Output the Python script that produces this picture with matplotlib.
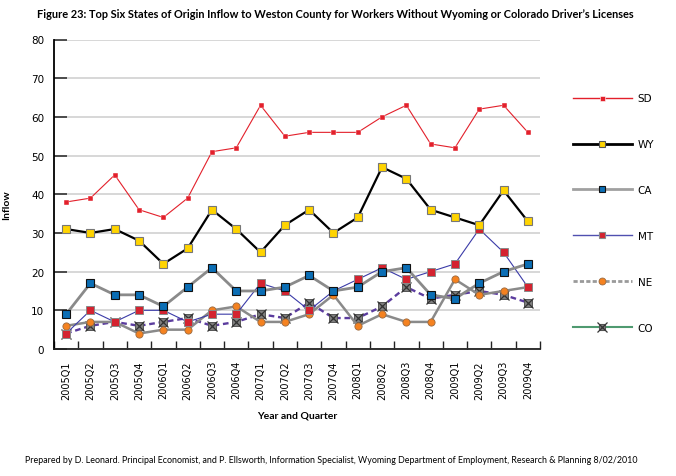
"""
Figure 23 - top six states of origin inflow to Weston County
"""
import matplotlib
matplotlib.use("Agg")
import matplotlib.pyplot as plt
from matplotlib import font_manager as fm
from matplotlib.lines import Line2D
from matplotlib.legend_handler import HandlerTuple
import numpy as np

quarters = ["2005Q1", "2005Q2", "2005Q3", "2005Q4", "2006Q1", "2006Q2", "2006Q3",
            "2006Q4", "2007Q1", "2007Q2", "2007Q3", "2007Q4", "2008Q1", "2008Q2",
            "2008Q3", "2008Q4", "2009Q1", "2009Q2", "2009Q3", "2009Q4"]

sd = [38, 39, 45, 36, 34, 39, 51, 52, 63, 55, 56, 56, 56, 60, 63, 53, 52, 62, 63, 56]
wy = [31, 30, 31, 28, 22, 26, 36, 31, 25, 32, 36, 30, 34, 47, 44, 36, 34, 32, 41, 33]
ca = [9, 17, 14, 14, 11, 16, 21, 15, 15, 16, 19, 15, 16, 20, 21, 14, 13, 17, 20, 22]
mt = [4, 10, 7, 10, 10, 7, 9, 9, 17, 15, 10, 15, 18, 21, 18, 20, 22, 31, 25, 16]
ne = [6, 7, 7, 4, 5, 5, 10, 11, 7, 7, 9, 14, 6, 9, 7, 7, 18, 14, 15, 16]
co = [4, 6, 7, 6, 7, 8, 6, 7, 9, 8, 12, 8, 8, 11, 16, 13, 14, 15, 14, 12]


def pick(*names):
    for n in names:
        try:
            fm.findfont(n, fallback_to_default=False)
            return n
        except Exception:
            pass
    return "DejaVu Sans"


NARROW = pick("Lato", "Roboto", "DejaVu Sans")
plt.rcParams["font.family"] = "DejaVu Sans"

RED = "#e3202b"
YEL = "#ffd400"
BLUE = "#0b6eb5"
MTRED = "#d42330"
ORANGE = "#f58220"
GRAY = "#8a8a8a"
PURPLE = "#5b3c9e"

fig = plt.figure(figsize=(6.76, 4.77), dpi=100)
ax = fig.add_axes([54/676, 1-350/477, 486/676, 309.5/477])

x = np.arange(len(quarters))

# CO: grey x-square markers on purple dashed line
ax.plot(x, co, color=PURPLE, lw=1.7, ls=(0, (2.4, 1.6)), zorder=3)
ax.plot(x, co, ls="none", marker="s", ms=5.2, mfc="#7f7f7f", mec="#555555", mew=0.7, zorder=3)
ax.plot(x, co, ls="none", marker="x", ms=7, mec="#333333", mew=0.9, zorder=3)
# NE: orange circles on grey line
ax.plot(x, ne, color=GRAY, lw=1.8, marker="o", ms=5.2, mfc=ORANGE, mec="#9a6a40", mew=0.6, zorder=4)
# MT
ax.plot(x, mt, color="#3b3ba8", lw=0.8, marker="s", ms=6, mfc=MTRED, mec="#8a8a8a", mew=0.7, zorder=5)
# CA
ax.plot(x, ca, color=GRAY, lw=2.0, marker="s", ms=6, mfc=BLUE, mec="#111111", mew=0.8, zorder=6)
# WY
ax.plot(x, wy, color="black", lw=1.6, marker="s", ms=6, mfc=YEL, mec="#777777", mew=0.8, zorder=7)
# SD
ax.plot(x, sd, color=RED, lw=0.8, marker="s", ms=3.6, mfc=RED, mec="white", mew=0.3, zorder=8)

ax.set_xlim(-0.5, len(quarters) - 0.5)
ax.set_ylim(0, 80)
ax.set_yticks(range(0, 81, 10))
ax.yaxis.grid(True, color="#d4d4d4", lw=1.3)
ax.set_axisbelow(True)
ax.tick_params(axis="y", direction="in", length=9, width=1.2, color="#333333",
               labelsize=7.5, pad=7)
ax.set_xticks(x)
ax.set_xticklabels(quarters, rotation=90, fontsize=7)
ax.set_xticks(np.arange(-0.5, len(quarters)), minor=True)
ax.tick_params(axis="x", which="major", length=0, pad=8)
ax.tick_params(axis="x", which="minor", direction="in", length=6, width=1, color="#222222")
for s in ["top", "right"]:
    ax.spines[s].set_visible(False)
ax.spines["left"].set_linewidth(1.3)
ax.spines["bottom"].set_linewidth(1.3)
ax.spines["bottom"].set_color("#222222")

ax.set_xlabel("Year and Quarter", family=NARROW, fontweight="bold", fontsize=7.5)
ax.xaxis.set_label_coords(0.5, (350 - 416) / 309.5)
ax.xaxis.label.set_va("center")
ax.set_ylabel("Inflow", family=NARROW, fontweight="bold", fontsize=7.5)
ax.yaxis.set_label_coords((7 - 54) / 486, (350 - 205) / 309.5)
ax.yaxis.label.set_va("center")

# legend (styles as shown in the original key)
h_sd = Line2D([], [], color=RED, lw=1, marker="s", ms=3.6, mfc=RED, mec="white", mew=0.4)
h_wy = Line2D([], [], color="black", lw=2, marker="s", ms=5, mfc=YEL, mec="#555555", mew=0.8)
h_ca = Line2D([], [], color="#a0a0a0", lw=2, marker="s", ms=5, mfc=BLUE, mec="#111111", mew=0.8)
h_mt = Line2D([], [], color="#5050b0", lw=1, marker="s", ms=5, mfc=MTRED, mec="#8a8a8a", mew=0.8)
h_ne = Line2D([], [], color="#9a9a9a", lw=2, ls=(0, (1.5, 0.8)), marker="o", ms=5,
              mfc=ORANGE, mec="#9a6a40", mew=0.6)
h_co1 = Line2D([], [], color="#4f9a70", lw=1.5, marker="s", ms=5, mfc="#7f7f7f",
               mec="#555555", mew=0.8)
h_co2 = Line2D([], [], ls="none", marker="x", ms=6.5, mec="#333333", mew=0.9)

leg = fig.legend([h_sd, h_wy, h_ca, h_mt, h_ne, (h_co1, h_co2)],
                 ["SD", "WY", "CA", "MT", "NE", "CO"],
                 handler_map={tuple: HandlerTuple(ndivide=1)},
                 loc="upper left", bbox_to_anchor=(568/676, 1-89/477),
                 frameon=False, fontsize=7.5, handlelength=5.6,
                 labelspacing=3.45, handletextpad=0.6, borderpad=0)

title = fig.text(37/676, 1-15/477,
                 "Figure 23: Top Six States of Origin Inflow to Weston County for Workers "
                 "Without Wyoming or Colorado Driver\u2019s Licenses",
                 family=NARROW, fontweight="bold", fontsize=8.3, ha="left", va="center")
foot = fig.text(25/676, 1-461/477,
                "Prepared by D. Leonard. Principal Economist, and P. Ellsworth, Information "
                "Specialist, Wyoming Department of Employment, Research & Planning 8/02/2010",
                family=NARROW, fontsize=7, ha="left", va="center")

# shrink the long texts to the width they take in the original
renderer = fig.canvas.get_renderer()
for t, target in [(title, 598), (foot, 615)]:
    w = t.get_window_extent(renderer).width
    if w > target:
        t.set_fontsize(t.get_fontsize() * target / w)

fig.savefig("out.png", dpi=100)
